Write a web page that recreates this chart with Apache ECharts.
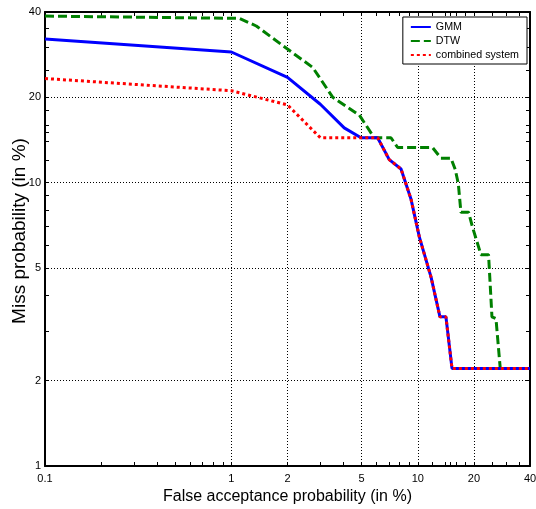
<!DOCTYPE html>
<html>
<head>
<meta charset="utf-8">
<script src="https://cdn.jsdelivr.net/npm/echarts/dist/echarts.min.js"></script>
<style>
html,body{margin:0;padding:0;background:#fff;}
#chart{width:536px;height:509px;}
</style>
</head>
<body>
<div id="chart"></div>
<script>
// ---- data ----
const seriesNames = ['GMM', 'DTW', 'combined system'];

const gmmX = [0.1, 1, 2, 3, 4.03, 4.96, 6.09, 7.03, 8.13, 9.19, 10.2, 11.78, 13.15, 14.16, 15.26, 40];
const gmmY = [32.1, 28.9, 23.5, 18.9, 15.6, 14.4, 14.4, 12.05, 11.17, 8.76, 6.42, 4.64, 3.36, 3.36, 2.21, 2.21];

const dtwX = [0.1, 1, 1.1, 1.36, 2.0, 2.73, 3.5, 4.86, 5.84, 7.18, 7.8, 12.0, 13.3, 15.07, 15.9, 16.5, 17.04, 18.73, 19.67, 21.82, 23.97, 25.0, 26.27, 27.7, 40];
const dtwY = [38.7, 38.0, 38.0, 35.7, 29.6, 25.5, 20.0, 17.3, 14.4, 14.4, 13.3, 13.3, 12.2, 12.2, 11.1, 9.9, 7.86, 7.86, 6.96, 5.57, 5.57, 3.36, 3.31, 2.21, 2.21];

const combX = [0.1, 1, 2, 3, 6.09, 7.03, 8.13, 9.19, 10.2, 11.78, 13.15, 14.16, 15.26, 40];
const combY = [23.3, 21.1, 18.8, 14.4, 14.4, 12.05, 11.17, 8.76, 6.42, 4.64, 3.36, 3.36, 2.21, 2.21];

const xLabels = [0.1, 1, 2, 5, 10, 20, 40];
const xMinor = [0.2, 0.3, 0.4, 0.5, 0.6, 0.7, 0.8, 0.9, 3, 4, 6, 7, 8, 9, 12, 14, 15, 16, 18, 25, 30, 35];
const yLabels = [1, 2, 5, 10, 20, 40];
const yMinor = [3, 4, 6, 7, 8, 9, 12, 14, 15, 16, 18, 25, 30, 35];
const xGrid = [1, 2, 5, 10, 20];
const yGrid = [2, 5, 10, 20];

// ---- chart ----
const FONT = 'Liberation Sans, Arial, sans-serif';
const zip = (xs, ys) => xs.map((x, i) => [x, ys[i]]);

function makeAxis(isX, position, showLabels) {
  const labels = isX ? xLabels : yLabels;
  const ticks = labels.concat(isX ? xMinor : yMinor);
  return {
    type: 'log',
    logBase: 10,
    position: position,
    min: isX ? 0.1 : 1,
    max: 40,
    axisLine: { show: true, onZero: false, lineStyle: { color: '#000', width: 2 } },
    axisTick: { show: true, inside: true, length: 4, customValues: ticks, lineStyle: { color: '#000', width: 1 } },
    axisLabel: {
      show: showLabels,
      customValues: labels,
      color: '#000',
      fontSize: 11,
      fontFamily: FONT,
      margin: isX ? 7 : 4,
      formatter: v => String(+v.toPrecision(6))
    },
    splitLine: { show: false },
    minorTick: { show: false },
    minorSplitLine: { show: false },
    name: showLabels ? (isX ? 'False acceptance probability (in %)' : 'Miss probability (in %)') : '',
    nameLocation: 'middle',
    nameMoveOverlap: isX,
    nameGap: isX ? 21 : 16,
    nameTextStyle: {
      color: '#000', fontSize: isX ? 16 : 19, fontFamily: FONT,
      padding: isX ? 0 : [0, 0, 0, 16]
    }
  };
}

const chart = echarts.init(document.getElementById('chart'), null, { renderer: 'canvas' });
chart.setOption({
  animation: false,
  backgroundColor: '#fff',
  grid: { left: 45, right: 6, top: 12, bottom: 43, containLabel: false, outerBoundsMode: 'none' },
  xAxis: [makeAxis(true, 'bottom', true), makeAxis(true, 'top', false)],
  yAxis: [makeAxis(false, 'left', true), makeAxis(false, 'right', false)],
  legend: {
    data: seriesNames,
    orient: 'vertical',
    right: 9,
    top: 17,
    backgroundColor: '#fff',
    borderColor: '#000',
    borderWidth: 1,
    borderRadius: 0,
    padding: [3, 8, 2, 7],
    itemGap: 0,
    itemWidth: 20,
    itemHeight: 14,
    itemStyle: { opacity: 0, borderWidth: 0 },
    textStyle: { color: '#000', fontSize: 10.7, lineHeight: 14, fontFamily: FONT },
    selectedMode: false
  },
  series: [
    {
      name: 'gridlines', type: 'line', data: [], silent: true, z: 1,
      markLine: {
        silent: true, z: 1, animation: false,
        symbol: ['none', 'none'],
        label: { show: false },
        emphasis: { disabled: true },
        lineStyle: { color: '#000', type: [1, 2], width: 1 },
        data: xGrid.map(v => ({ xAxis: v })).concat(yGrid.map(v => ({ yAxis: v })))
      }
    },
    {
      name: 'GMM', type: 'line', data: zip(gmmX, gmmY), showSymbol: false, symbol: 'none', z: 3,
      lineStyle: { color: '#0000ff', width: 3 }, itemStyle: { color: '#0000ff' }
    },
    {
      name: 'DTW', type: 'line', data: zip(dtwX, dtwY), showSymbol: false, symbol: 'none', z: 2,
      lineStyle: { color: '#008000', width: 3, type: [9, 4] }, itemStyle: { color: '#008000' }
    },
    {
      name: 'combined system', type: 'line', data: zip(combX, combY), showSymbol: false, symbol: 'none', z: 4,
      lineStyle: { color: '#ff0000', width: 3, type: [3, 3], cap: 'butt' }, itemStyle: { color: '#ff0000' }
    }
  ]
});
</script>
</body>
</html>
